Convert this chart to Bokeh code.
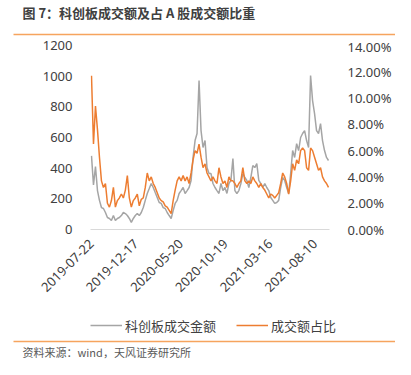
import numpy as np
from bokeh.plotting import figure
from bokeh.layouts import column
from bokeh.models import (Range1d, LinearAxis, FixedTicker, PrintfTickFormatter,
                          Label, BoxAnnotation, Legend, LegendItem)
from bokeh.embed import file_html
from bokeh.resources import INLINE

tick_dates = ["2019-07-22", "2019-12-17", "2020-05-20", "2020-10-19", "2021-03-16", "2021-08-10"]
tick_days = [0, 101, 202, 303, 404, 505]
sample_step = 4.5

# 科创板成交金额 (亿元)
amount = [
    480, 290, 410, 254, 190, 143, 137, 111, 78, 72,
    59, 91, 59, 72, 78, 91, 111, 104, 91, 72,
    46, 72, 91, 104, 91, 111, 143, 190, 235, 267,
    300, 274, 241, 209, 176, 170, 143, 137, 111, 91,
    72, 124, 170, 190, 235, 254, 274, 235, 254, 274,
    320, 470, 580, 626, 971, 645, 535, 580, 404, 365,
    365, 300, 274, 254, 235, 300, 254, 274, 235, 300,
    320, 463, 254, 235, 254, 300, 365, 339, 320, 274,
    339, 417, 404, 430, 320, 300, 274, 300, 274, 254,
    209, 190, 170, 176, 190, 274, 339, 320, 274, 235,
    365, 515, 470, 560, 515, 600, 626, 645, 580, 535,
    1004, 841, 756, 645, 626, 690, 580, 515, 470, 450,
]
# 成交额占比 (%)
share = [
    11.7, 6.5, 9.4, 7.6, 5.5, 3.7, 3.2, 3.5, 2.0, 1.7,
    2.2, 3.2, 1.7, 2.2, 2.4, 2.7, 2.4, 3.0, 4.1, 2.4,
    1.7, 2.2, 2.4, 2.7, 1.8, 2.3, 2.4, 3.2, 4.3, 3.7,
    4.0, 3.5, 3.2, 2.8, 2.4, 2.2, 2.1, 1.8, 1.7, 1.45,
    1.2, 2.2, 3.0, 3.7, 4.0, 3.7, 4.1, 3.7, 4.0, 3.5,
    4.3, 5.3, 6.0, 5.8, 6.5, 5.5, 4.7, 5.0, 4.3, 4.0,
    3.7, 4.0, 3.7, 3.5, 4.7, 4.0, 3.5, 3.7, 3.2, 4.0,
    3.7, 3.7, 3.5, 3.2, 3.5, 3.7, 4.7, 3.7, 3.5, 3.7,
    3.5, 4.0, 3.7, 3.5, 3.2, 3.5, 3.2, 3.0, 2.7, 2.4,
    2.7, 2.6, 2.4, 2.6, 2.8, 3.5, 4.3, 4.0, 3.5, 2.7,
    3.7, 5.0, 4.5, 5.3, 5.0, 6.0, 6.2, 6.0, 4.7, 4.5,
    6.2, 6.0, 5.5, 5.0, 4.5, 4.7, 4.0, 3.7, 3.5, 3.2,
]
left_ticks = [0, 200, 400, 600, 800, 1000, 1200]
right_ticks = [0, 2, 4, 6, 8, 10, 12, 14]

title_text = "图 7：科创板成交额及占 A 股成交额比重"
source_text = "资料来源：wind，天风证券研究所"
series_names = ["科创板成交金额", "成交额占比"]
series_colors = ["#A5A5A5", "#ED7D31"]

CJK = "Noto Sans CJK SC"
LAT = "Noto Sans"
TXT = "#404040"
SEP = "#F6A45E"
W = 395
H_HEAD, H_MAIN, H_LEG, H_FOOT = 37, 275, 32, 15


def no_align(f):
    try:
        f.frame_align = False
    except Exception:
        pass


def blank(h):
    f = figure(width=W, height=h, output_backend="svg", toolbar_location=None,
               x_axis_type=None, y_axis_type=None,
               x_range=Range1d(0, W), y_range=Range1d(h, 0),
               min_border=0, outline_line_color=None)
    f.background_fill_color = "white"
    f.border_fill_color = "white"
    no_align(f)
    return f


# ---- header: title + orange rule ----
head = blank(H_HEAD)
head.add_layout(Label(x=22, y=12, text=title_text, text_font=CJK, text_font_size="13px",
                      text_font_style="bold", text_color=TXT, text_baseline="middle"))
head.add_layout(BoxAnnotation(left=13, right=W, top=H_HEAD - 3.7, bottom=H_HEAD - 2.2,
                              fill_color=SEP, fill_alpha=1.0, line_color=None))

# ---- main chart ----
x = np.arange(len(amount)) * sample_step

p = figure(width=W, height=H_MAIN, output_backend="svg", toolbar_location=None,
           x_range=Range1d(-sample_step / 2, x[-1] + sample_step / 2),
           y_range=Range1d(0, 1200),
           min_border_left=90, min_border_right=66, min_border_top=8,
           min_border_bottom=H_MAIN - 8 - 184)
no_align(p)
p.extra_y_ranges = {"pct": Range1d(0, 14)}
p.outline_line_color = None
p.xgrid.visible = False
p.ygrid.visible = False
p.background_fill_color = "white"
p.border_fill_color = "white"

p.line(x, amount, line_color=series_colors[0], line_width=1.5)
p.line(x, share, y_range_name="pct", line_color=series_colors[1], line_width=1.5)

ya = p.yaxis[0]
ya.ticker = FixedTicker(ticks=left_ticks)
ya.axis_line_color = None
ya.major_tick_line_color = None
ya.minor_tick_line_color = None
ya.major_label_standoff = 12
ya.major_label_text_font = LAT
ya.major_label_text_font_size = "13px"
ya.major_label_text_color = TXT

ra = LinearAxis(y_range_name="pct", ticker=FixedTicker(ticks=right_ticks),
                formatter=PrintfTickFormatter(format="%.2f%%"))
ra.axis_line_color = None
ra.major_tick_line_color = None
ra.minor_tick_line_color = None
ra.major_label_standoff = 12
ra.major_label_text_font = LAT
ra.major_label_text_font_size = "13px"
ra.major_label_text_color = TXT
p.add_layout(ra, "right")

xa = p.xaxis[0]
xa.ticker = FixedTicker(ticks=tick_days)
xa.major_label_overrides = {d: s for d, s in zip(tick_days, tick_dates)}
xa.major_label_orientation = np.pi / 4
xa.axis_line_color = "#D9D9D9"
xa.axis_line_width = 1
xa.major_tick_line_color = None
xa.minor_tick_line_color = None
xa.major_label_standoff = 6
xa.major_label_text_font = LAT
xa.major_label_text_font_size = "13px"
xa.major_label_text_color = TXT

# ---- legend strip with the lower orange rule near its bottom (same set-up as the header) ----
leg = blank(H_LEG)
leg.add_layout(BoxAnnotation(left=13, right=W, top=H_LEG - 3.7, bottom=H_LEG - 2.2,
                             fill_color=SEP, fill_alpha=1.0, line_color=None))
# legend keys: empty (NaN) series that only carry the line styles
key1 = leg.line(x=[np.nan], y=[np.nan], line_color=series_colors[0], line_width=1.5)
key2 = leg.line(x=[np.nan], y=[np.nan], line_color=series_colors[1], line_width=1.5)
legend = Legend(items=[LegendItem(label=series_names[0], renderers=[key1]),
                       LegendItem(label=series_names[1], renderers=[key2])],
                orientation="horizontal", location=(90, 9),
                glyph_width=32, glyph_height=20, label_standoff=3, spacing=20,
                padding=0, margin=0, border_line_alpha=0, background_fill_alpha=0,
                label_text_font=CJK, label_text_font_size="13px", label_text_color=TXT)
leg.add_layout(legend, "center")

# ---- footer: source ----
foot = blank(H_FOOT)
foot.add_layout(Label(x=22, y=7, text=source_text, text_font=CJK, text_font_size="11px",
                      text_color="#595959", text_baseline="middle"))

layout = column(head, p, leg, foot, spacing=0)
open("out.html", "w").write(file_html(layout, INLINE))
